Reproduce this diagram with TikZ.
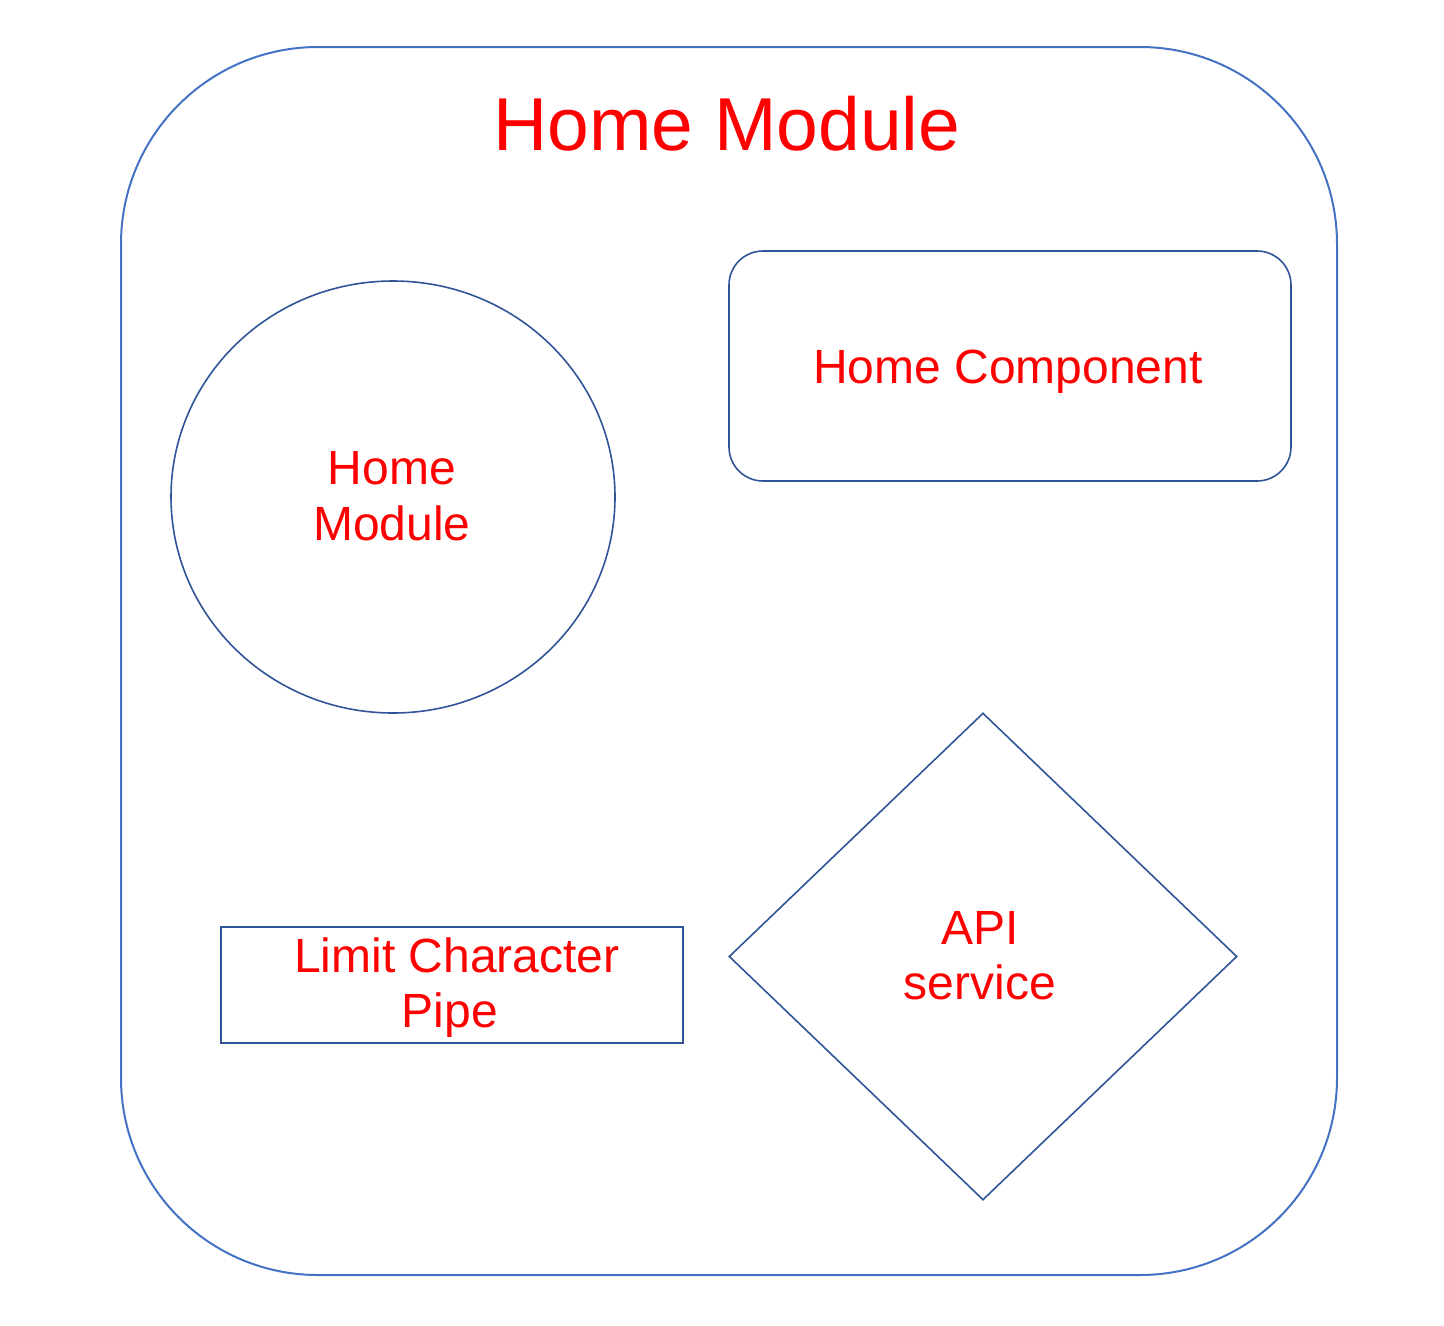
\documentclass[tikz,border=0pt]{standalone}
\usepackage{fontspec}
\setmainfont{Liberation Sans}
\usetikzlibrary{shapes.geometric}
\definecolor{outerblue}{HTML}{4472C4}
\definecolor{innerblue}{HTML}{2F5597}
\definecolor{labelred}{HTML}{FF0000}
\begin{document}
\begin{tikzpicture}[x=1pt,y=-1pt,
  outerbox/.style={draw=outerblue, line width=2pt, rounded corners=197pt,
    minimum width=1216pt, minimum height=1228pt, inner sep=0pt},
  part/.style={draw=innerblue, line width=1.6pt, inner sep=0pt},
  lbl/.style={text=labelred, inner sep=0pt, anchor=base,
    font=\fontsize{48}{56}\selectfont},
  title/.style={text=labelred, inner sep=0pt, anchor=base,
    font=\fontsize{75}{90}\selectfont}]
  \useasboundingbox (0,0) rectangle (1444,1326);

  % module frame
  \node[outerbox] (module) at (729,661) {};
  \node[title] (moduletitle) at (727,150) {Home Module};

  % module class
  \node[part, ellipse, minimum width=444pt, minimum height=432pt] (homemod) at (393,497) {};
  \node[lbl] (homemod1) at (392,484) {Home};
  \node[lbl] (homemod2) at (392,540) {Module};

  % component
  \node[part, rounded corners=34pt, minimum width=562pt, minimum height=230pt] (homecomp) at (1010,366) {};
  \node[lbl] (homecomptext) at (1008,383) {Home Component};

  % pipe
  \node[part, rectangle, minimum width=462pt, minimum height=116pt] (pipe) at (452,985) {};
  \node[lbl] (pipe1) at (457,972) {Limit Character};
  \node[lbl] (pipe2) at (450,1027) {Pipe};

  % service
  \node[part, diamond, minimum width=508pt, minimum height=487pt] (api) at (983,956.5) {};
  \node[lbl] (api1) at (980,944) {API};
  \node[lbl] (api2) at (980,999) {service};
\end{tikzpicture}
\end{document}
